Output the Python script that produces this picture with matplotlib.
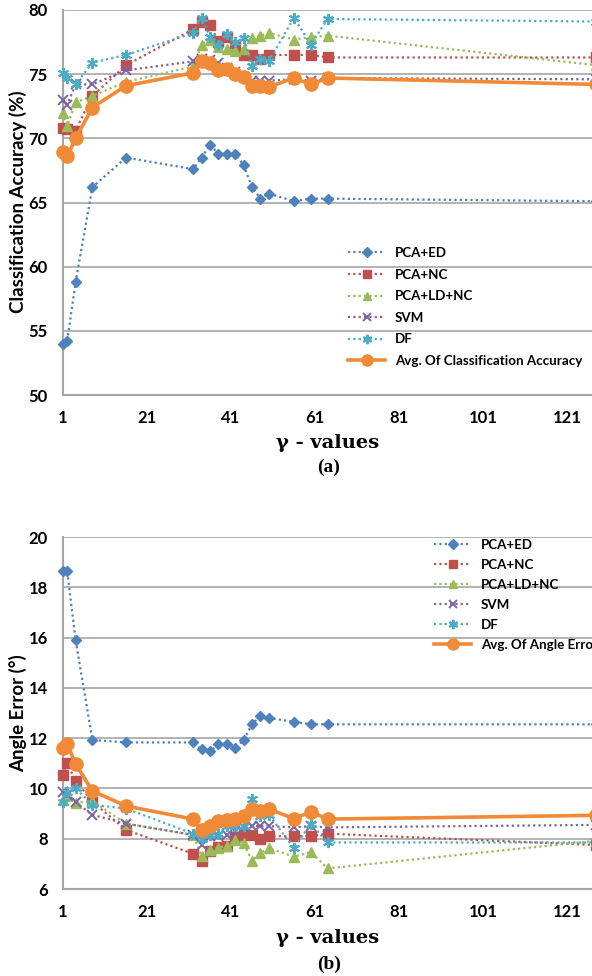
import matplotlib.pyplot as plt
import matplotlib.lines as mlines

gamma = [1, 2, 4, 8, 16, 32, 34, 36, 38, 40, 42, 44, 46, 48, 50, 56, 60, 64, 128]

# (a) classification accuracy (%)
acc_ed = [54.0, 54.2, 58.8, 66.2, 68.5, 67.6, 68.5, 69.5, 68.8, 68.8, 68.8, 67.9, 66.2, 65.3, 65.7, 65.1, 65.3, 65.3, 65.1]
acc_nc = [70.8, 70.7, 70.6, 73.3, 75.7, 78.5, 79.1, 78.8, 77.6, 77.9, 77.1, 76.5, 76.5, 76.2, 76.5, 76.5, 76.5, 76.3, 76.3]
acc_ldnc = [72.0, 71.0, 72.8, 73.3, 74.4, 75.6, 77.3, 77.7, 77.1, 77.0, 76.8, 77.0, 77.8, 78.0, 78.2, 77.7, 77.9, 78.0, 75.7]
acc_svm = [73.0, 72.6, 74.2, 74.2, 75.3, 76.0, 76.2, 76.1, 75.9, 75.5, 75.2, 74.8, 74.5, 74.5, 74.5, 74.6, 74.5, 74.7, 74.6]
acc_df = [75.1, 74.7, 74.2, 75.9, 76.5, 78.2, 79.4, 77.9, 77.3, 78.1, 77.5, 77.8, 75.6, 76.2, 76.0, 79.4, 77.3, 79.3, 79.1]
acc_avg = [68.9, 68.6, 70.0, 72.4, 74.1, 75.1, 76.0, 75.9, 75.3, 75.4, 75.0, 74.8, 74.1, 74.1, 74.0, 74.7, 74.2, 74.7, 74.2]

# (b) angle error (degrees)
err_ed = [18.65, 18.65, 15.9, 11.93, 11.83, 11.83, 11.57, 11.47, 11.75, 11.75, 11.6, 11.92, 12.55, 12.88, 12.8, 12.65, 12.55, 12.55, 12.55]
err_nc = [10.55, 11.0, 10.3, 9.47, 8.35, 7.4, 7.12, 7.5, 7.67, 7.72, 8.05, 8.15, 8.15, 8.0, 8.1, 8.1, 8.1, 8.2, 7.75]
err_ldnc = [9.55, 9.7, 9.43, 9.5, 8.6, 8.15, 7.3, 7.55, 7.65, 7.7, 7.95, 7.82, 7.12, 7.43, 7.63, 7.28, 7.47, 6.82, 7.92]
err_svm = [9.87, 9.73, 9.45, 8.95, 8.6, 8.15, 7.75, 8.1, 8.1, 8.15, 8.3, 8.45, 8.5, 8.5, 8.5, 8.45, 8.5, 8.45, 8.55]
err_df = [9.45, 9.87, 10.0, 9.35, 9.2, 8.2, 8.0, 8.15, 8.2, 8.5, 8.5, 8.5, 9.57, 8.9, 8.95, 7.63, 8.6, 7.85, 7.85]
err_avg = [11.6, 11.77, 10.97, 9.9, 9.3, 8.78, 8.35, 8.5, 8.7, 8.75, 8.8, 8.9, 9.18, 9.1, 9.18, 8.8, 9.07, 8.78, 8.93]

names = ["PCA+ED", "PCA+NC", "PCA+LD+NC", "SVM", "DF"]
colors = ["#4F81BD", "#C0504D", "#9BBB59", "#8064A2", "#4BACC6"]
markers = ["D", "s", "^", "x", (6, 2, 0)]
msizes = [5.5, 7, 7, 7, 8]
orange = "#F08A36"

tick_font = "Lato"
dot = (0, (1, 1.4))

fig = plt.figure(figsize=(5.92, 9.76), dpi=100)

px = 4.2  # pixels per gamma unit
x_max = 131
ax_w = (x_max - 1) * px / 592
ax_a = fig.add_axes([63 / 592, 1 - 395 / 976, ax_w, 385 / 976])
ax_b = fig.add_axes([63 / 592, 1 - 889 / 976, ax_w, 352 / 976])


def draw(ax, series, avg, avg_label, ylim, yticks):
    handles = []
    for vals, name, c, m, ms in zip(series, names, colors, markers, msizes):
        mew = 1.4 if m in ("x", (6, 2, 0)) else 1
        ax.plot(gamma, vals, color=c, linestyle=dot, linewidth=1.6,
                marker=m, markersize=ms, markeredgewidth=mew,
                markeredgecolor=c, markerfacecolor=c, clip_on=False, zorder=3)
        handles.append(mlines.Line2D([], [], color=c, linestyle=dot, linewidth=1.6,
                                     marker=m, markersize=ms * 0.85, markeredgewidth=mew,
                                     markeredgecolor=c, markerfacecolor=c, label=name))
    ax.plot(gamma, avg, color=orange, linewidth=2.6, marker="o", markersize=9.5,
            clip_on=False, zorder=4)
    handles.append(mlines.Line2D([], [], color=orange, linewidth=2.6, marker="o",
                                 markersize=8, label=avg_label))
    ax.set_xlim(1, x_max)
    ax.set_ylim(*ylim)
    ax.set_xticks([1, 21, 41, 61, 81, 101, 121])
    ax.set_yticks(yticks)
    ax.yaxis.grid(True, color="#A6A6A6", linewidth=1.2)
    ax.set_axisbelow(True)
    for s in ("top", "right"):
        ax.spines[s].set_visible(False)
    for s in ("left", "bottom"):
        ax.spines[s].set_color("#A6A6A6")
        ax.spines[s].set_linewidth(1.5)
    ax.tick_params(length=0, labelsize=12, pad=11)
    for lab in ax.get_xticklabels() + ax.get_yticklabels():
        lab.set_fontfamily(tick_font)
        lab.set_fontweight("bold")
    return handles


ha = draw(ax_a, [acc_ed, acc_nc, acc_ldnc, acc_svm, acc_df], acc_avg,
          "Avg. Of Classification Accuracy", (50, 80), [50, 55, 60, 65, 70, 75, 80])
hb = draw(ax_b, [err_ed, err_nc, err_ldnc, err_svm, err_df], err_avg,
          "Avg. Of Angle Error", (6, 20), [6, 8, 10, 12, 14, 16, 18, 20])

leg_kw = dict(frameon=False, loc="upper left", handlelength=2.8, handletextpad=0.7,
              borderaxespad=0, borderpad=0,
              prop={"family": tick_font, "weight": "bold", "size": 9.6})
la = ax_a.legend(handles=ha, bbox_to_anchor=(348 / 592, 1 - 247 / 976),
                 bbox_transform=fig.transFigure, labelspacing=0.72, **leg_kw)
lb = ax_b.legend(handles=hb, bbox_to_anchor=(434 / 592, 1 - 539 / 976),
                 bbox_transform=fig.transFigure, labelspacing=0.6, **leg_kw)

fig.text(18 / 592, 1 - 202 / 976, "Classification Accuracy (%)", rotation=90,
         ha="center", va="center", fontsize=13.5, fontweight="bold", family=tick_font)
fig.text(18 / 592, 1 - 713 / 976, "Angle Error (°)", rotation=90,
         ha="center", va="center", fontsize=13.5, fontweight="bold", family=tick_font)

for yl, yc, tag in ((443, 467, "(a)"), (938, 964, "(b)")):
    fig.text(328 / 592, 1 - yl / 976, "γ - values", ha="center", va="center",
             fontsize=14, fontweight="bold", family="DejaVu Serif")
    fig.text(329 / 592, 1 - yc / 976, tag, ha="center", va="center",
             fontsize=14, fontweight="bold", family="Liberation Serif")

fig.savefig("out.png", dpi=100)
